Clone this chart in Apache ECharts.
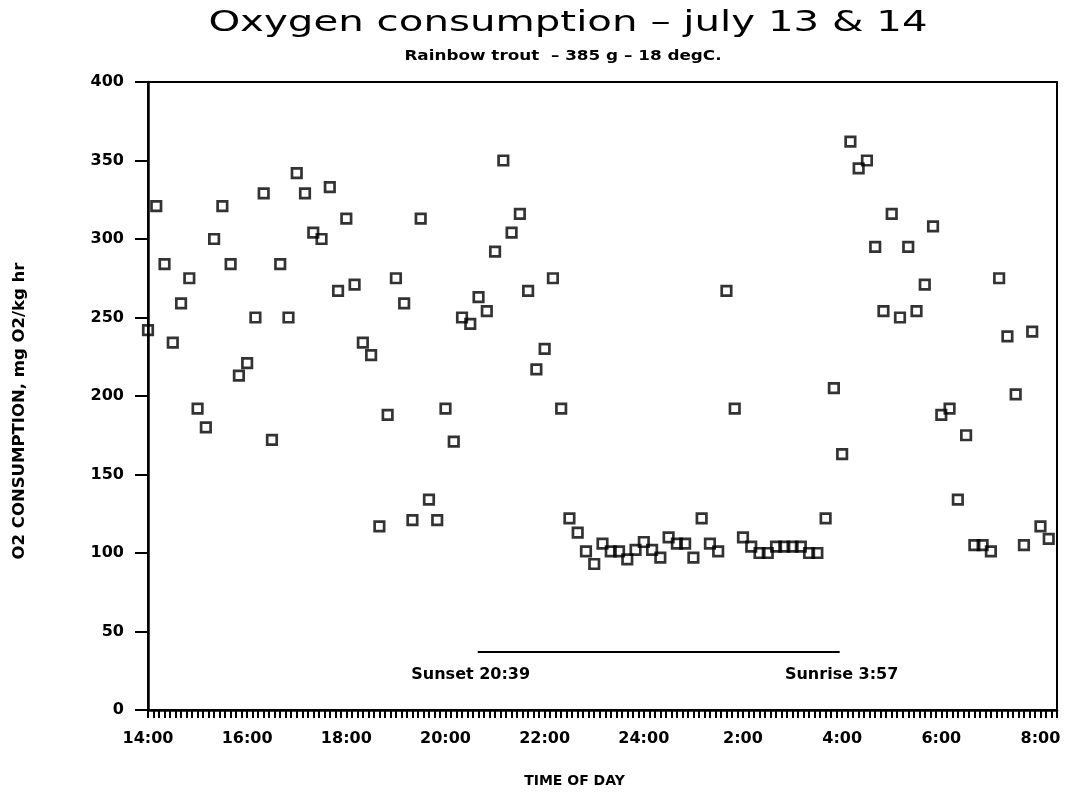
<!DOCTYPE html>
<html>
<head>
<meta charset="utf-8">
<script src="https://cdn.jsdelivr.net/npm/echarts@6/dist/echarts.min.js"></script>
<style>html,body{margin:0;padding:0;background:#fff}#c{width:1067px;height:793px}</style>
</head>
<body>
<div id="c"></div>
<script>
// ---- data ----
const chartTitle = "Oxygen consumption – july 13 & 14";
const chartSubtitle = "Rainbow trout  – 385 g – 18 degC.";
const xAxisName = "TIME OF DAY";
const yAxisName = "O2 CONSUMPTION, mg O2/kg hr";
const times = [
  "14:00","14:10","14:20","14:30","14:40","14:50",
  "15:00","15:10","15:20","15:30","15:40","15:50",
  "16:00","16:10","16:20","16:30","16:40","16:50",
  "17:00","17:10","17:20","17:30","17:40","17:50",
  "18:00","18:10","18:20","18:30","18:40","18:50",
  "19:00","19:10","19:20","19:30","19:40","19:50",
  "20:00","20:10","20:20","20:30","20:40","20:50",
  "21:00","21:10","21:20","21:30","21:40","21:50",
  "22:00","22:10","22:20","22:30","22:40","22:50",
  "23:00","23:10","23:20","23:30","23:40","23:50",
  "0:00","0:10","0:20","0:30","0:40","0:50",
  "1:00","1:10","1:20","1:30","1:40","1:50",
  "2:00","2:10","2:20","2:30","2:40","2:50",
  "3:00","3:10","3:20","3:30","3:40","3:50",
  "4:00","4:10","4:20","4:30","4:40","4:50",
  "5:00","5:10","5:20","5:30","5:40","5:50",
  "6:00","6:10","6:20","6:30","6:40","6:50",
  "7:00","7:10","7:20","7:30","7:40","7:50",
  "8:00","8:10"
];
const o2 = [
  242,321,284,234,259,275, 192,180,300,321,284,213,
  221,250,329,172,284,250, 342,329,304,300,333,267,
  313,271,234,226,117,188, 275,259,121,313,134,121,
  192,171,250,246,263,254, 292,350,304,316,267,217,
  230,275,192,122,113,101, 93,106,101,101,96,102,
  107,102,97,110,106,106, 97,122,106,101,267,192,
  110,104,100,100,104,104, 104,104,100,100,122,205,
  163,362,345,350,295,254, 316,250,295,254,271,308,
  188,192,134,175,105,105, 101,275,238,201,105,241,
  117,109
];
const yTicks = [0,50,100,150,200,250,300,350,400];
const xTickLabels = ["14:00","16:00","18:00","20:00","22:00","24:00","2:00","4:00","6:00","8:00"];
const sunTimes = ["20:39","3:57"];
const sunLabels = ["Sunset 20:39","Sunrise 3:57"];
const sunLineLevel = 37;
const xStart = "14:00", xEnd = "8:20";

// ---- helpers ----
function toMin(t){
  const p = t.split(":"); let m = (+p[0])*60 + (+p[1]);
  if (m < 14*60) m += 24*60;
  return m;
}
const xMin = toMin(xStart), xMax = toMin(xEnd);
const majorLabelAt = {};
xTickLabels.forEach((l,i)=>{ majorLabelAt[xMin + i*120] = l; });
const pts = times.map((t,i)=>[toMin(t), o2[i]]);
const sunOffsets = [[-7,0],[2,0]];
const sunData = sunTimes.map((t,i)=>({value:[toMin(t), sunLineLevel], label:{formatter: sunLabels[i], offset: sunOffsets[i]}}));

const FONT = "DejaVu Sans";
const chart = echarts.init(document.getElementById('c'), null, {renderer:'canvas'});
chart.setOption({
  animation:false,
  backgroundColor:'#fff',
  graphic:[
    {type:'text', x:568, y:23, scaleX:1.39, scaleY:1,
     style:{text:chartTitle, fontFamily:FONT, fontSize:29, fontWeight:'normal', fill:'#000',
            align:'center', verticalAlign:'middle', textAlign:'center', textVerticalAlign:'middle'}},
    {type:'text', x:563, y:56, scaleX:1.2, scaleY:1,
     style:{text:chartSubtitle, fontFamily:FONT, fontSize:14, fontWeight:'bold', fill:'#000',
            align:'center', verticalAlign:'middle', textAlign:'center', textVerticalAlign:'middle'}}
  ],
  grid:{left:148, right:10, top:82, bottom:81, show:true, borderColor:'#000', borderWidth:2, backgroundColor:'transparent'},
  xAxis:[
    {type:'value', min:xMin, max:xMax, interval:120, position:'bottom',
     name:xAxisName, nameLocation:'middle', nameGap:64,
     nameTextStyle:{fontFamily:FONT, fontWeight:'bold', fontSize:14, color:'#000', padding:[0,56,0,0]},
     axisLine:{show:true, lineStyle:{color:'#000', width:2.5}},
     axisTick:{show:false},
     splitLine:{show:false},
     axisLabel:{margin:21, fontFamily:FONT, fontWeight:'bold', fontSize:16, color:'#000',
       formatter:v=> majorLabelAt[v] !== undefined ? majorLabelAt[v] : ''}},
    {type:'value', min:xMin, max:xMax, interval:20/3, position:'bottom', gridIndex:0,
     axisLine:{show:false}, axisLabel:{show:false}, splitLine:{show:false},
     axisTick:{show:true, inside:false, length:8, lineStyle:{color:'#000', width:2}}}
  ],
  yAxis:{type:'value', min:yTicks[0], max:yTicks[yTicks.length-1], interval:yTicks[1]-yTicks[0],
     name:yAxisName, nameLocation:'middle', nameGap:120, nameRotate:90,
     nameTextStyle:{fontFamily:FONT, fontWeight:'bold', fontSize:16.5, color:'#000', padding:[0,30,0,0]},
     axisLine:{show:true, lineStyle:{color:'#000', width:2.5}},
     axisTick:{show:true, inside:false, length:13, lineStyle:{color:'#000', width:2}},
     splitLine:{show:false},
     axisLabel:{margin:24, fontFamily:FONT, fontWeight:'bold', fontSize:16, color:'#000'}},
  series:[
    {type:'scatter', xAxisIndex:0, data:pts, symbol:'rect', symbolSize:9.5,
     itemStyle:{color:'rgba(0,0,0,0)', borderColor:'#000', borderWidth:2.7}},
    {type:'line', xAxisIndex:0, data:sunData, symbol:'circle', symbolSize:0.1, showSymbol:true,
     lineStyle:{color:'#000', width:2},
     label:{show:true, position:'bottom', distance:15, fontFamily:FONT, fontWeight:'bold', fontSize:16, color:'#000'}}
  ]
});
</script>
</body>
</html>
